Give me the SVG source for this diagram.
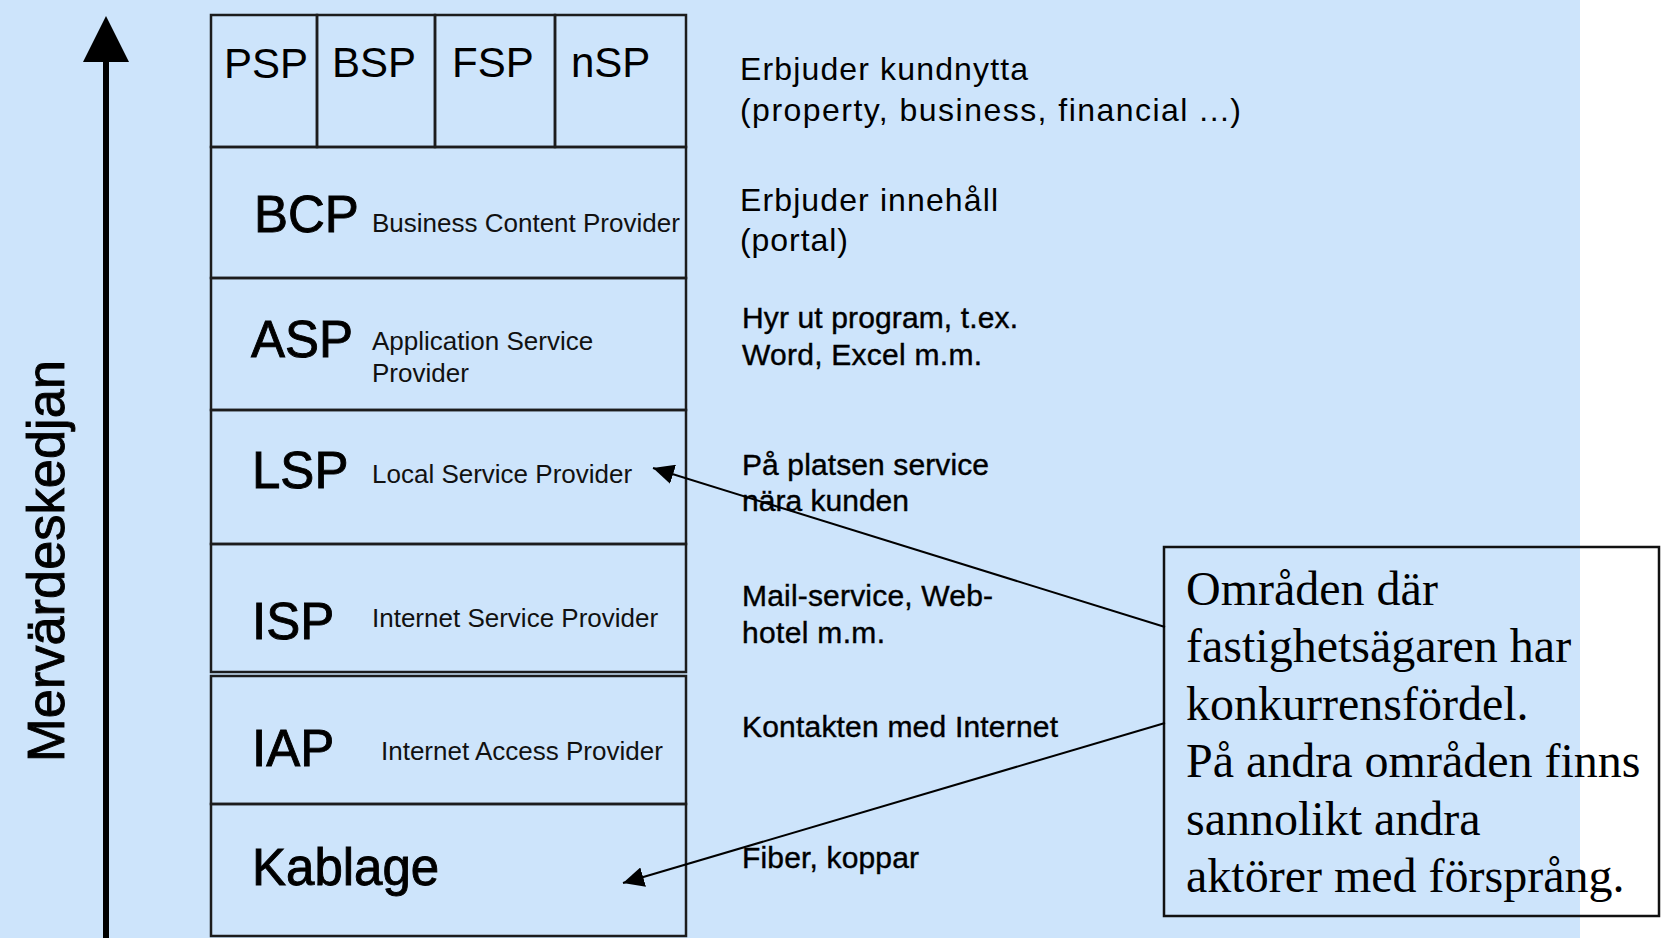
<svg xmlns="http://www.w3.org/2000/svg" width="1661" height="938" viewBox="0 0 1661 938">
<style>
.cell{fill:none;stroke:#1c1c1c;stroke-width:2.5}
.big{font-family:"Liberation Sans",Arial,sans-serif;font-size:51px;fill:#000;stroke:#000;stroke-width:0.9}
.top{font-family:"Liberation Sans",Arial,sans-serif;font-size:42px;fill:#000}
.sub{font-family:"Liberation Sans",Arial,sans-serif;font-size:26px;fill:#111}
.desc{font-family:"Liberation Sans",Arial,sans-serif;font-size:32px;fill:#000}
.desc2{font-family:"Liberation Sans",Arial,sans-serif;font-size:30px;fill:#000;stroke:#000;stroke-width:0.4}
.note{font-family:"Liberation Serif","Times New Roman",serif;font-size:48px;fill:#000}
.conn{fill:none;stroke:#000;stroke-width:2}
</style>
<defs>
<marker id="ah" viewBox="0 0 21 20" refX="21" refY="10" markerWidth="21" markerHeight="20" markerUnits="userSpaceOnUse" orient="auto">
<path d="M0,0 L21,10 L0,20 z" fill="#000"/>
</marker>
</defs>
<rect x="0" y="0" width="1661" height="938" fill="#fff"/>
<rect x="0" y="0" width="1580" height="938" fill="#cde4fb"/>

<g id="axis">
<line x1="106" y1="938" x2="106" y2="50" stroke="#000" stroke-width="6"/>
<polygon points="106,16 83,62 129,62" fill="#000"/>
<text class="big" font-size="62" stroke-width="0.6" transform="translate(64,561) rotate(-90)" text-anchor="middle" textLength="402" lengthAdjust="spacingAndGlyphs">Mervärdeskedjan</text>
</g>

<g id="psp"><rect class="cell" x="211" y="15" width="106" height="132"/><text class="top" x="224" y="78">PSP</text></g>
<g id="bsp"><rect class="cell" x="317" y="15" width="118" height="132"/><text class="top" x="332" y="77">BSP</text></g>
<g id="fsp"><rect class="cell" x="435" y="15" width="120" height="132"/><text class="top" x="452" y="77">FSP</text></g>
<g id="nsp"><rect class="cell" x="555" y="15" width="131" height="132"/><text class="top" x="571" y="77">nSP</text></g>

<g id="bcp"><rect class="cell" x="211" y="147" width="475" height="131"/><text class="big" x="254" y="232">BCP</text><text class="sub" x="372" y="232">Business Content Provider</text></g>
<g id="asp"><rect class="cell" x="211" y="278" width="475" height="132"/><text class="big" x="251" y="357">ASP</text><text class="sub" x="372" y="350">Application Service</text><text class="sub" x="372" y="382">Provider</text></g>
<g id="lsp"><rect class="cell" x="211" y="410" width="475" height="134"/><text class="big" x="252" y="488">LSP</text><text class="sub" x="372" y="483">Local Service Provider</text></g>
<g id="isp"><rect class="cell" x="211" y="544" width="475" height="128"/><text class="big" x="252" y="639">ISP</text><text class="sub" x="372" y="627">Internet Service Provider</text></g>
<g id="iap"><rect class="cell" x="211" y="676" width="475" height="128"/><text class="big" x="252" y="766">IAP</text><text class="sub" x="381" y="760">Internet Access Provider</text></g>
<g id="kablage"><rect class="cell" x="211" y="804" width="475" height="132"/><text class="big" x="252" y="885">Kablage</text></g>

<g id="descriptions">
<text class="desc" x="740" y="80" textLength="288" lengthAdjust="spacing">Erbjuder kundnytta</text>
<text class="desc" x="740" y="121" textLength="501" lengthAdjust="spacing">(property, business, financial ...)</text>
<text class="desc" x="740" y="211" textLength="258" lengthAdjust="spacing">Erbjuder innehåll</text>
<text class="desc" x="740" y="251" textLength="108" lengthAdjust="spacing">(portal)</text>
<text class="desc2" x="742" y="328" textLength="276" lengthAdjust="spacing">Hyr ut program, t.ex.</text>
<text class="desc2" x="742" y="365" textLength="240" lengthAdjust="spacing">Word, Excel m.m.</text>
<text class="desc2" x="742" y="475" textLength="247" lengthAdjust="spacing">På platsen service</text>
<text class="desc2" x="742" y="511" textLength="167" lengthAdjust="spacing">nära kunden</text>
<text class="desc2" x="742" y="606" textLength="251" lengthAdjust="spacing">Mail-service, Web-</text>
<text class="desc2" x="742" y="643" textLength="143" lengthAdjust="spacing">hotel m.m.</text>
<text class="desc2" x="742" y="737" textLength="316" lengthAdjust="spacing">Kontakten med Internet</text>
<text class="desc2" x="742" y="868" textLength="177" lengthAdjust="spacing">Fiber, koppar</text>
</g>

<g id="callout">
<rect x="1164" y="547" width="495" height="369" fill="none" stroke="#111" stroke-width="2.5"/>
<text class="note" x="1186" y="605">Områden där</text>
<text class="note" x="1186" y="662">fastighetsägaren har</text>
<text class="note" x="1186" y="720">konkurrensfördel.</text>
<text class="note" x="1186" y="777">På andra områden finns</text>
<text class="note" x="1186" y="835">sannolikt andra</text>
<text class="note" x="1186" y="892">aktörer med försprång.</text>
</g>

<g id="connectors">
<path class="conn" d="M1165,627 L653,468" marker-end="url(#ah)"/>
<path class="conn" d="M1165,723 L623,883" marker-end="url(#ah)"/>
</g>
</svg>
